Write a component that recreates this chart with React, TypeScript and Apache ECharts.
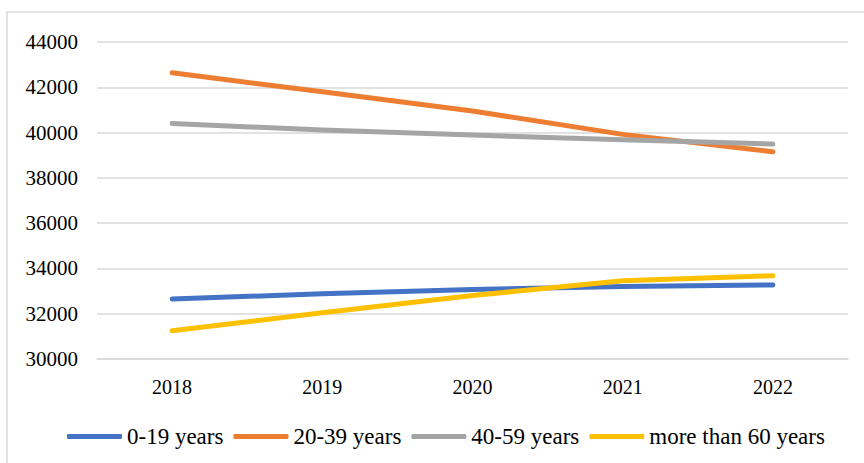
import React, { useEffect, useRef } from "react";
import * as echarts from "echarts";

const categories = ["2018", "2019", "2020", "2021", "2022"];
const seriesNames = ["0-19 years", "20-39 years", "40-59 years", "more than 60 years"];
const age0to19 = [32650, 32880, 33070, 33200, 33270];
const age20to39 = [42640, 41800, 40950, 39920, 39150];
const age40to59 = [40400, 40110, 39890, 39680, 39490];
const age60plus = [31250, 32040, 32800, 33460, 33680];
const colors = ["#4472C4", "#ED7D31", "#A5A5A5", "#FFC000"];

export default function App() {
  const ref = useRef<HTMLDivElement>(null);
  useEffect(() => {
    if (!ref.current) return;
    const chart = echarts.init(ref.current, undefined, { renderer: "svg" });
    const data = [age0to19, age20to39, age40to59, age60plus];
    const font = "serif";
    chart.setOption({
      animation: false,
      backgroundColor: "#ffffff",
      color: colors,
      textStyle: { fontFamily: font },
      graphic: [
        {
          type: "rect",
          shape: { x: 7, y: 12, width: 900, height: 500 },
          style: { fill: "none", stroke: "#d9d9d9", lineWidth: 1.5 },
          silent: true,
        },
      ],
      grid: { left: 97, right: 16, top: 42, bottom: 104, containLabel: false },
      legend: {
        left: 62,
        top: 420,
        itemWidth: 55,
        itemHeight: 5,
        itemGap: 10,
        icon: "roundRect",
        textStyle: { fontFamily: font, fontSize: 23, color: "#000" },
        data: seriesNames,
      },
      xAxis: {
        type: "category",
        data: categories,
        boundaryGap: true,
        axisLine: { lineStyle: { color: "#d9d9d9", width: 1.5 } },
        axisTick: { show: false },
        axisLabel: { fontFamily: font, fontSize: 20, color: "#000", margin: 18 },
      },
      yAxis: {
        type: "value",
        min: 30000,
        max: 44000,
        interval: 2000,
        axisLine: { show: false },
        axisTick: { show: false },
        splitLine: { lineStyle: { color: "#d9d9d9", width: 1.5 } },
        axisLabel: {
          fontFamily: font,
          fontSize: 21,
          color: "#000",
          margin: 19,
          formatter: (v: number) => String(v),
        },
      },
      series: seriesNames.map((name, i) => ({
        name,
        type: "line",
        data: data[i],
        symbol: "none",
        lineStyle: { width: 5, color: colors[i], cap: "round", join: "round" },
        itemStyle: { color: colors[i] },
      })),
    });
    return () => chart.dispose();
  }, []);
  return (
    <div
      ref={ref}
      style={{ position: "fixed", left: 0, top: 0, width: 864, height: 463 }}
    />
  );
}
